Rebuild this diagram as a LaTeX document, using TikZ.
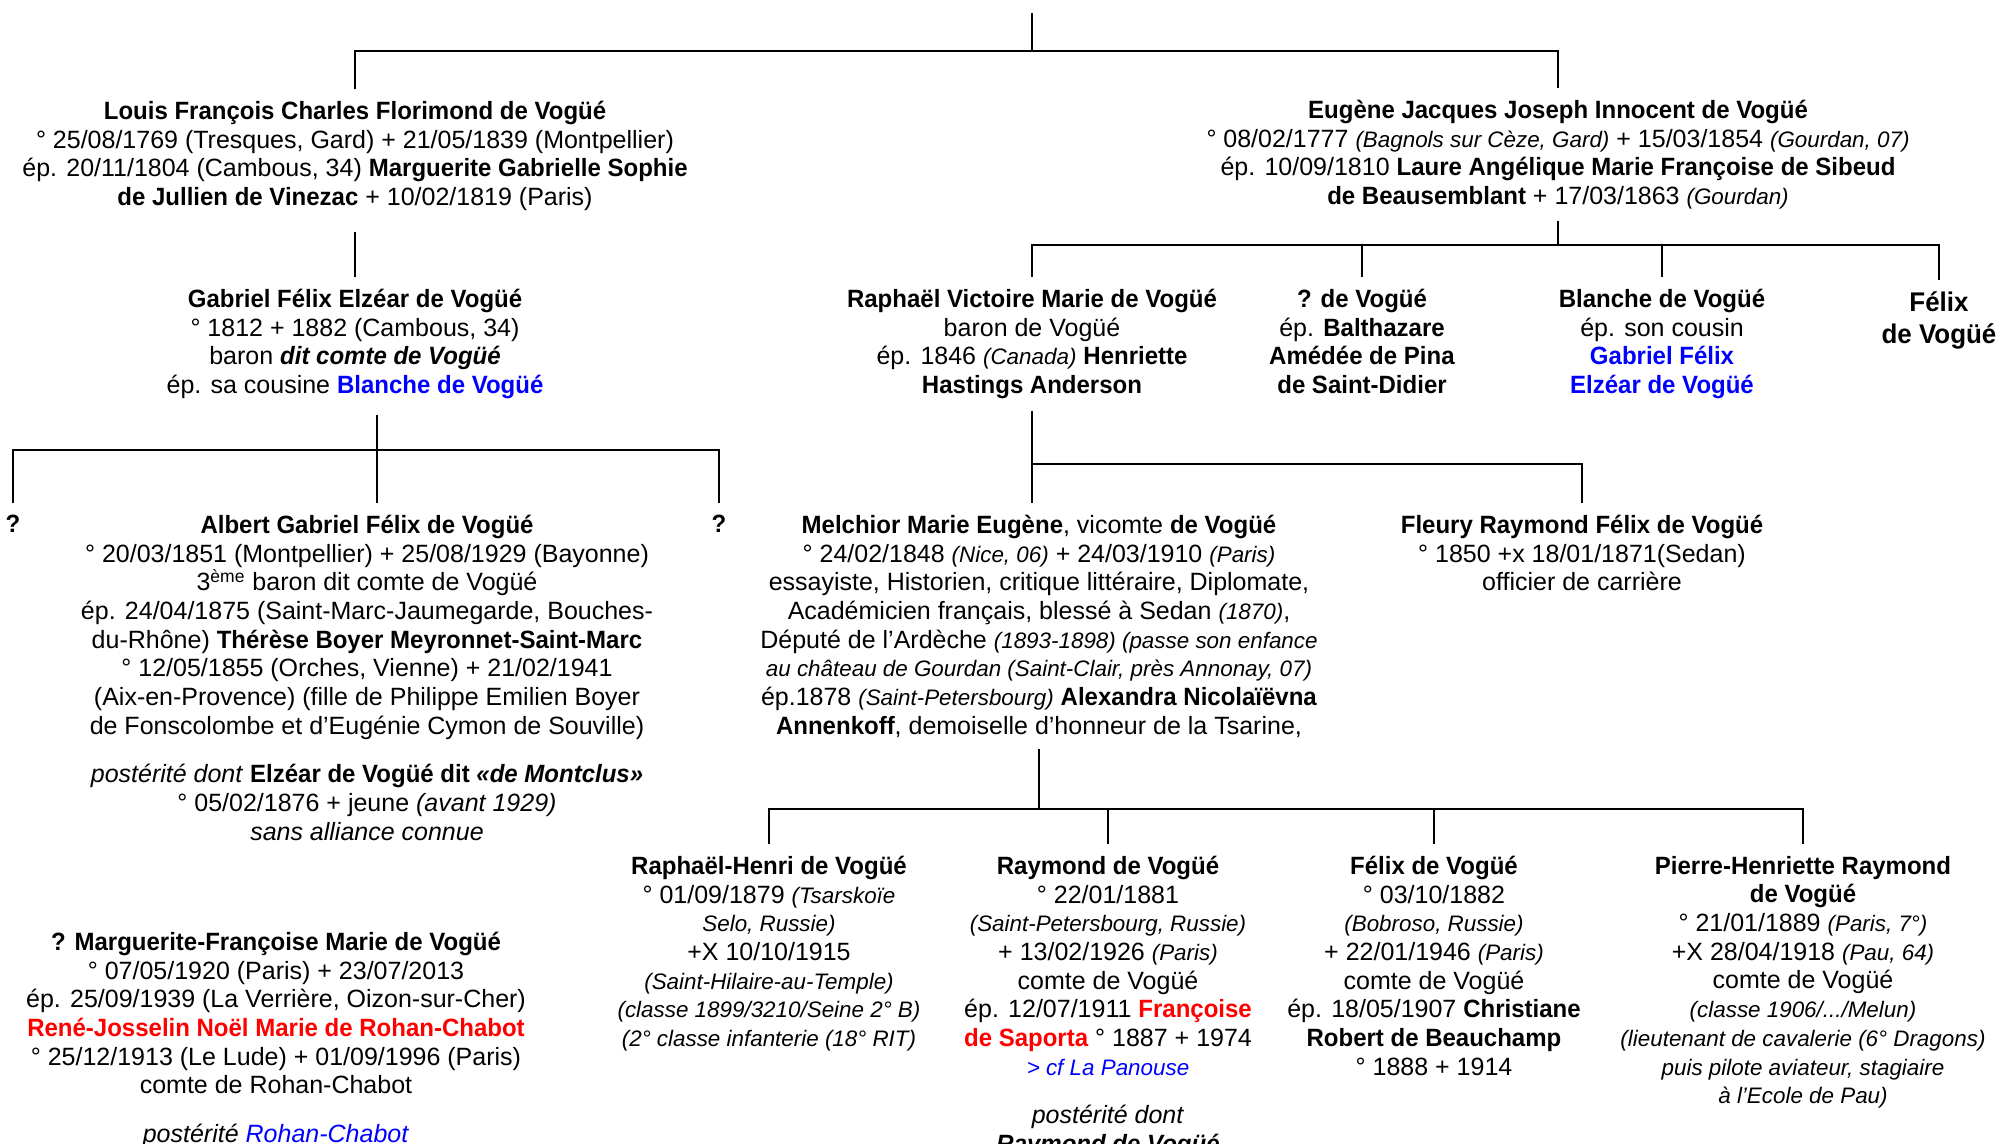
\documentclass[tikz,border=0pt]{standalone}
\usepackage{fontspec}
\setmainfont{Liberation Sans}[BoldFeatures={FakeStretch=0.96},BoldItalicFeatures={FakeStretch=0.96}]
\newcommand{\lieu}[1]{{\fontsize{11.2}{14.35}\selectfont\itshape #1}}

\begin{document}
\begin{tikzpicture}[
        x=0.5pt, y=-0.5pt,
        person/.style={align=center, inner sep=0pt, outer ysep=6pt, anchor=north,
                       font=\fontsize{12.5}{14.35}\selectfont},
        big/.style={person, font=\fontsize{13.5}{16}\selectfont\bfseries},
        link/.style={line width=1.1pt}
    ]
        \useasboundingbox (0,0) rectangle (2003,1144);

        % Generation 1
        \node[person] (louis) at (355,89) {\textbf{Louis François Charles Florimond de Vogüé}\\
            ° 25/08/1769 (Tresques, Gard) + 21/05/1839 (Montpellier)\\
            ép. 20/11/1804 (Cambous, 34) \textbf{Marguerite Gabrielle Sophie}\\
            \textbf{de Jullien de Vinezac} + 10/02/1819 (Paris)};
        \node[person] (eugene) at (1558,88) {\textbf{Eugène Jacques Joseph Innocent de Vogüé}\\
            ° 08/02/1777 \lieu{(Bagnols sur Cèze, Gard)} + 15/03/1854 \lieu{(Gourdan, 07)}\\
            ép. 10/09/1810 \textbf{Laure Angélique Marie Françoise de Sibeud}\\
            \textbf{de Beausemblant} + 17/03/1863 \lieu{(Gourdan)}};

        % Generation 2
        \node[person] (gabriel) at (355,277) {\textbf{Gabriel Félix Elzéar de Vogüé}\\
            ° 1812 + 1882 (Cambous, 34)\\
            baron \textbf{\textit{dit comte de Vogüé}}\\
            ép. sa cousine \textcolor{blue}{\textbf{Blanche de Vogüé}}};
        \node[person] (raphael) at (1032,277) {\textbf{Raphaël Victoire Marie de Vogüé}\\
            baron de Vogüé\\
            ép. 1846 \lieu{(Canada)} \textbf{Henriette}\\
            \textbf{Hastings Anderson}};
        \node[person] (inconnu) at (1362,277) {\textbf{? de Vogüé}\\
            ép. \textbf{Balthazare}\\
            \textbf{Amédée de Pina}\\
            \textbf{de Saint-Didier}};
        \node[person] (blanche) at (1662,277) {\textbf{Blanche de Vogüé}\\
            ép. son cousin\\
            \textcolor{blue}{\textbf{Gabriel Félix}}\\
            \textcolor{blue}{\textbf{Elzéar de Vogüé}}};
        \node[big] (felix) at (1939,280) {Félix\\de Vogüé};

        % Generation 3
        \node[person] (qleft) at (13,503) {\textbf{?}};
        \node[person] (qright) at (719,503) {\textbf{?}};
        \node[person] (albert) at (367,503) {\textbf{Albert Gabriel Félix de Vogüé}\\
            ° 20/03/1851 (Montpellier) + 25/08/1929 (Bayonne)\\
            3\textsuperscript{ème} baron dit comte de Vogüé\\
            ép. 24/04/1875 (Saint-Marc-Jaumegarde, Bouches-\\
            du-Rhône) \textbf{Thérèse Boyer Meyronnet-Saint-Marc}\\
            ° 12/05/1855 (Orches, Vienne) + 21/02/1941\\
            (Aix-en-Provence) (fille de Philippe Emilien Boyer\\
            de Fonscolombe et d’Eugénie Cymon de Souville)\\[10pt]
            \textit{postérité dont} \textbf{Elzéar de Vogüé dit \textit{«de Montclus»}}\\
            ° 05/02/1876 + jeune \textit{(avant 1929)}\\
            \textit{sans alliance connue}};
        \node[person] (melchior) at (1039,503) {\textbf{Melchior Marie Eugène}, vicomte \textbf{de Vogüé}\\
            ° 24/02/1848 \lieu{(Nice, 06)} + 24/03/1910 \lieu{(Paris)}\\
            essayiste, Historien, critique littéraire, Diplomate,\\
            Académicien français, blessé à Sedan \lieu{(1870)},\\
            Député de l’Ardèche \lieu{(1893-1898) (passe son enfance}\\
            \lieu{au château de Gourdan (Saint-Clair, près Annonay, 07)}\\
            ép.1878 \lieu{(Saint-Petersbourg)} \textbf{Alexandra Nicolaïëvna}\\
            \textbf{Annenkoff}, demoiselle d’honneur de la Tsarine,};
        \node[person] (fleury) at (1582,503) {\textbf{Fleury Raymond Félix de Vogüé}\\
            ° 1850 +x 18/01/1871(Sedan)\\
            officier de carrière};

        % Generation 4
        \node[person] (rhenri) at (769,844) {\textbf{Raphaël-Henri de Vogüé}\\
            ° 01/09/1879 \lieu{(Tsarskoïe}\\
            \lieu{Selo, Russie)}\\
            +X 10/10/1915\\
            \lieu{(Saint-Hilaire-au-Temple)}\\
            \lieu{(classe 1899/3210/Seine 2° B)}\\
            \lieu{(2° classe infanterie (18° RIT)}};
        \node[person] (raymond) at (1108,844) {\textbf{Raymond de Vogüé}\\
            ° 22/01/1881\\
            \lieu{(Saint-Petersbourg, Russie)}\\
            + 13/02/1926 \lieu{(Paris)}\\
            comte de Vogüé\\
            ép. 12/07/1911 \textcolor{red}{\textbf{Françoise}}\\
            \textcolor{red}{\textbf{de Saporta}} ° 1887 + 1974\\
            \textcolor{blue}{\lieu{> cf La Panouse}}\\[10pt]
            \textit{postérité dont}\\
            \textbf{\textit{Raymond de Vogüé}}};
        \node[person] (felix2) at (1434,844) {\textbf{Félix de Vogüé}\\
            ° 03/10/1882\\
            \lieu{(Bobroso, Russie)}\\
            + 22/01/1946 \lieu{(Paris)}\\
            comte de Vogüé\\
            ép. 18/05/1907 \textbf{Christiane}\\
            \textbf{Robert de Beauchamp}\\
            ° 1888 + 1914};
        \node[person] (pierre) at (1803,844) {\textbf{Pierre-Henriette Raymond}\\
            \textbf{de Vogüé}\\
            ° 21/01/1889 \lieu{(Paris, 7°)}\\
            +X 28/04/1918 \lieu{(Pau, 64)}\\
            comte de Vogüé\\
            \lieu{(classe 1906/.../Melun)}\\
            \lieu{(lieutenant de cavalerie (6° Dragons)}\\
            \lieu{puis pilote aviateur, stagiaire}\\
            \lieu{à l’Ecole de Pau)}};

        % Loose entry
        \node[person] (marguerite) at (276,920) {\textbf{? Marguerite-Françoise Marie de Vogüé}\\
            ° 07/05/1920 (Paris) + 23/07/2013\\
            ép. 25/09/1939 (La Verrière, Oizon-sur-Cher)\\
            \textcolor{red}{\textbf{René-Josselin Noël Marie de Rohan-Chabot}}\\
            ° 25/12/1913 (Le Lude) + 01/09/1996 (Paris)\\
            comte de Rohan-Chabot\\[10pt]
            \textit{postérité} \textcolor{blue}{\textit{Rohan-Chabot}}};

        % Junctions
        \coordinate (root) at (1032,13);
        \coordinate (rootbar) at (1032,51);
        \coordinate (gabout) at (377,415);
        \coordinate (gabbar) at (377,450);
        \coordinate (eugbar) at (1558,245);
        \coordinate (rapbar) at (1032,464);
        \coordinate (melbar) at (1039,809);

        % Lines
        \draw[link] (root) -- (rootbar);
        \draw[link] (rootbar) -| (louis.north);
        \draw[link] (rootbar) -| (eugene.north);
        \draw[link] ([yshift=-4.5pt]louis.south) -- (gabriel.north);
        \draw[link] (gabout) -- (gabbar);
        \draw[link] (gabbar) -| (qleft.north);
        \draw[link] (gabbar) -| (qright.north);
        \draw[link] (gabbar) -- (gabbar |- albert.north);
        \draw[link] (eugene.south) -- (eugbar);
        \draw[link] (eugbar) -| (raphael.north);
        \draw[link] (eugbar) -| (inconnu.north);
        \draw[link] (eugbar) -| (blanche.north);
        \draw[link] (eugbar) -| (felix.north);
        \draw[link] (raphael.south) -- (raphael.south |- melchior.north);
        \draw[link] (rapbar) -| (fleury.north);
        \draw[link] (melchior.south) -- (melbar);
        \draw[link] (melbar) -| (rhenri.north);
        \draw[link] (melbar) -| (raymond.north);
        \draw[link] (melbar) -| (felix2.north);
        \draw[link] (melbar) -| (pierre.north);
    \end{tikzpicture}
\end{document}
